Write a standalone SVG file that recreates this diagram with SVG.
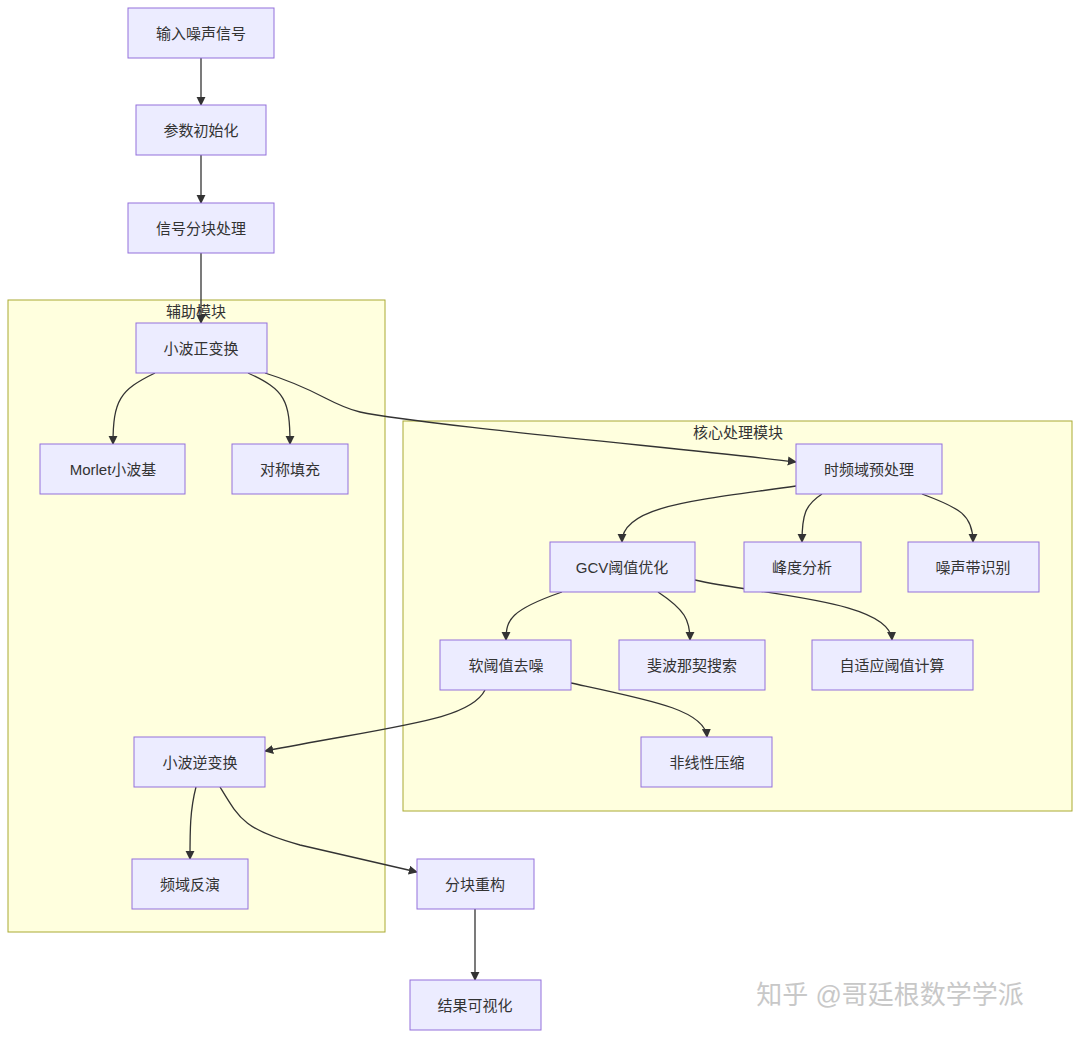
<svg xmlns="http://www.w3.org/2000/svg" width="1080" height="1038" viewBox="0 0 1080 1038">
<defs>
<style>
.n rect{fill:#ECECFF;stroke:#9370DB;stroke-width:1}
.c{fill:#FFFFDE;stroke:#AAAA33;stroke-width:1}
text{font-family:"Liberation Sans","Noto Sans CJK SC",sans-serif;font-size:15px;fill:#333;text-anchor:middle;dominant-baseline:central}
#edges path{fill:none;stroke:#333;stroke-width:1.3;marker-end:url(#a)}
</style>
<marker id="a" viewBox="0 0 10 10" refX="9" refY="5" markerWidth="7" markerHeight="7" orient="auto"><path d="M0,0L10,5L0,10z" fill="#333"/></marker>
</defs>
<rect width="1080" height="1038" fill="#fff"/>
<g id="cluster-aux"><rect class="c" x="8" y="300" width="377" height="632"/><text x="196" y="311">辅助模块</text></g>
<g id="cluster-core"><rect class="c" x="403" y="421" width="669" height="390"/><text x="738" y="432">核心处理模块</text></g>
<g id="edges">
<path d="M201,58L201,105"/>
<path d="M201,155L201,203"/>
<path d="M201,253L201,323"/>
<path d="M155,373C120,390 113,400 113,444"/>
<path d="M248,373C285,390 290,400 290,444"/>
<path d="M265,373C320,390 330,405 360,412C420,425 700,450 796,462"/>
<path d="M796,486C700,500 622,505 622,542"/>
<path d="M822,494C805,505 802,515 802,542"/>
<path d="M922,494C960,508 973,515 973,542"/>
<path d="M562,592C510,610 506,620 506,640"/>
<path d="M658,592C685,610 690,620 690,640"/>
<path d="M695,580C760,595 890,600 892,640"/>
<path d="M485,690C470,720 400,725 265,751"/>
<path d="M571,683C650,700 705,710 707,737"/>
<path d="M196,787C190,810 190,830 190,859"/>
<path d="M220,787C240,820 245,830 300,845L417,872"/>
<path d="M475,909L475,980"/>
</g>
<g id="n1" class="n"><rect x="128" y="8" width="146" height="50"/><text x="201" y="33">输入噪声信号</text></g>
<g id="n2" class="n"><rect x="136" y="105" width="130" height="50"/><text x="201" y="130">参数初始化</text></g>
<g id="n3" class="n"><rect x="128" y="203" width="146" height="50"/><text x="201" y="228">信号分块处理</text></g>
<g id="n4" class="n"><rect x="136" y="323" width="131" height="50"/><text x="201" y="348">小波正变换</text></g>
<g id="n5" class="n"><rect x="40" y="444" width="145" height="50"/><text x="113" y="469">Morlet小波基</text></g>
<g id="n6" class="n"><rect x="232" y="444" width="116" height="50"/><text x="290" y="469">对称填充</text></g>
<g id="n7" class="n"><rect x="796" y="444" width="146" height="50"/><text x="869" y="469">时频域预处理</text></g>
<g id="n8" class="n"><rect x="550" y="542" width="145" height="50"/><text x="622" y="567">GCV阈值优化</text></g>
<g id="n9" class="n"><rect x="744" y="542" width="117" height="50"/><text x="802" y="567">峰度分析</text></g>
<g id="n10" class="n"><rect x="908" y="542" width="131" height="50"/><text x="973" y="567">噪声带识别</text></g>
<g id="n11" class="n"><rect x="440" y="640" width="131" height="50"/><text x="506" y="665">软阈值去噪</text></g>
<g id="n12" class="n"><rect x="619" y="640" width="146" height="50"/><text x="692" y="665">斐波那契搜索</text></g>
<g id="n13" class="n"><rect x="812" y="640" width="161" height="50"/><text x="892" y="665">自适应阈值计算</text></g>
<g id="n14" class="n"><rect x="641" y="737" width="131" height="50"/><text x="707" y="762">非线性压缩</text></g>
<g id="n15" class="n"><rect x="134" y="737" width="131" height="50"/><text x="200" y="762">小波逆变换</text></g>
<g id="n16" class="n"><rect x="132" y="859" width="116" height="50"/><text x="190" y="884">频域反演</text></g>
<g id="n17" class="n"><rect x="417" y="859" width="117" height="50"/><text x="475" y="884">分块重构</text></g>
<g id="n18" class="n"><rect x="410" y="980" width="131" height="50"/><text x="475" y="1005">结果可视化</text></g>
<text x="890" y="995" style="font-size:26px;fill:#bbb;opacity:0.8">知乎 @哥廷根数学学派</text>
</svg>
